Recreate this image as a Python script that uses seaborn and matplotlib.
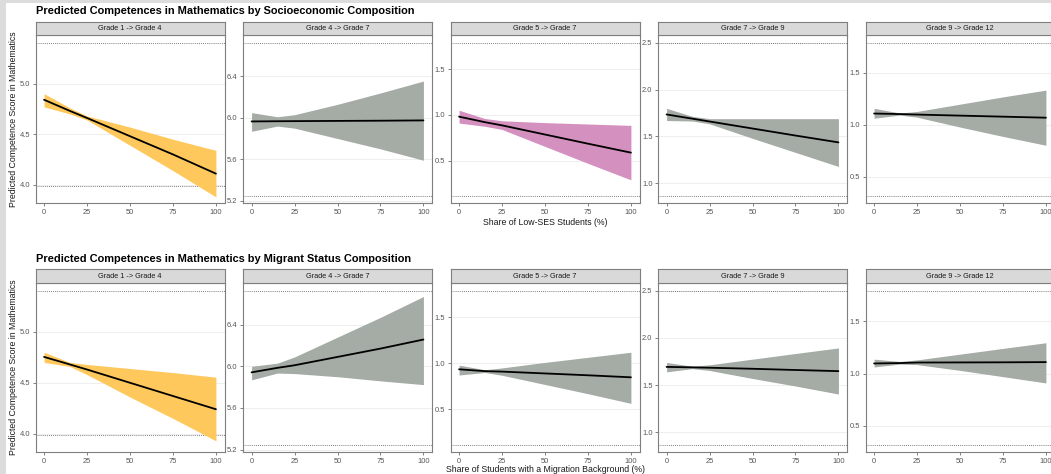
import matplotlib
matplotlib.use("Agg")
import matplotlib.pyplot as plt
from matplotlib.patches import Rectangle
import seaborn as sns
import pandas as pd

sns.set_theme(style="white")
plt.rcParams['font.family'] = ['Liberation Sans', 'DejaVu Sans']

# ---------------- data ----------------
grades = ["Grade 1 -> Grade 4", "Grade 4 -> Grade 7", "Grade 5 -> Grade 7",
          "Grade 7 -> Grade 9", "Grade 9 -> Grade 12"]
share_x = [0, 15, 25, 50, 75, 100]

ses_fit = [[4.84, 4.73, 4.66, 4.48, 4.30, 4.11],
           [5.965, 5.967, 5.968, 5.970, 5.972, 5.975],
           [0.98, 0.92, 0.885, 0.785, 0.685, 0.587],
           [1.735, 1.69, 1.66, 1.585, 1.51, 1.437],
           [1.11, 1.105, 1.10, 1.09, 1.08, 1.07]]
ses_hi = [[4.90, 4.76, 4.68, 4.57, 4.45, 4.34],
          [6.05, 6.01, 6.03, 6.13, 6.24, 6.355],
          [1.05, 0.96, 0.935, 0.915, 0.90, 0.885],
          [1.80, 1.715, 1.69, 1.69, 1.69, 1.69],
          [1.16, 1.115, 1.13, 1.20, 1.27, 1.335]]
ses_lo = [[4.77, 4.70, 4.64, 4.39, 4.14, 3.88],
          [5.87, 5.92, 5.90, 5.80, 5.70, 5.59],
          [0.91, 0.875, 0.84, 0.655, 0.47, 0.29],
          [1.67, 1.665, 1.635, 1.48, 1.33, 1.18],
          [1.065, 1.095, 1.075, 0.98, 0.89, 0.805]]

mig_fit = [[4.754, 4.68, 4.63, 4.50, 4.37, 4.24],
           [5.942, 5.985, 6.01, 6.09, 6.17, 6.257],
           [0.935, 0.915, 0.91, 0.89, 0.87, 0.848],
           [1.693, 1.688, 1.684, 1.673, 1.66, 1.648],
           [1.096, 1.10, 1.105, 1.106, 1.107, 1.109]]
mig_hi = [[4.80, 4.70, 4.68, 4.64, 4.60, 4.555],
          [6.00, 6.03, 6.09, 6.28, 6.47, 6.67],
          [0.98, 0.93, 0.95, 1.01, 1.065, 1.12],
          [1.74, 1.70, 1.715, 1.775, 1.835, 1.894],
          [1.137, 1.115, 1.13, 1.185, 1.24, 1.294]]
mig_lo = [[4.70, 4.66, 4.58, 4.36, 4.15, 3.93],
          [5.87, 5.935, 5.93, 5.90, 5.86, 5.824],
          [0.873, 0.90, 0.87, 0.77, 0.67, 0.565],
          [1.64, 1.675, 1.655, 1.57, 1.49, 1.405],
          [1.063, 1.09, 1.085, 1.03, 0.97, 0.91]]

ref_lower = [3.99, 5.245, 0.115, 0.865, 0.32]
ref_upper = [5.40, 6.725, 1.787, 2.50, 1.79]
y_limits = [(3.82, 5.48), (5.177, 6.80), (0.037, 1.872), (0.79, 2.583), (0.25, 1.865)]
y_ticks = [[4.0, 4.5, 5.0], [5.2, 5.6, 6.0, 6.4], [0.5, 1.0, 1.5],
           [1.0, 1.5, 2.0, 2.5], [0.5, 1.0, 1.5]]
x_ticks = [0, 25, 50, 75, 100]

ORANGE, GREY, PINK = "#FEC85C", "#A5ABA5", "#D490BF"
ses_colors = [ORANGE, GREY, PINK, GREY, GREY]
mig_colors = [ORANGE, GREY, GREY, GREY, GREY]

rows = [
    dict(title="Predicted Competences in Mathematics by Socioeconomic Composition",
         xlabel="Share of Low-SES Students (%)", fit=ses_fit, hi=ses_hi, lo=ses_lo,
         colors=ses_colors, top=35, bottom=203, strip_top=21.5, title_y=11,
         tick_y=212, xlab_y=222),
    dict(title="Predicted Competences in Mathematics by Migrant Status Composition",
         xlabel="Share of Students with a Migration Background (%)", fit=mig_fit,
         hi=mig_hi, lo=mig_lo, colors=mig_colors, top=283, bottom=452,
         strip_top=269, title_y=259.5, tick_y=460, xlab_y=470),
]

# ---------------- figure ----------------
W, H = 1051, 474
fig = plt.figure(figsize=(W / 100, H / 100), dpi=100)
fig.patch.set_facecolor("white")
# light grey frame at the left and top edges
fig.add_artist(Rectangle((0, 0), 6 / W, 1, transform=fig.transFigure,
                         facecolor="#DCDCDC", edgecolor="none", zorder=0))
fig.add_artist(Rectangle((0, 1 - 3 / H), 1, 3 / H, transform=fig.transFigure,
                         facecolor="#DCDCDC", edgecolor="none", zorder=0))

panel_w = 189
SPINE = "#7F7F7F"
for r in rows:
    ph = r["bottom"] - r["top"]
    for i, g in enumerate(grades):
        left = 35.5 + 207.5 * i
        ax = fig.add_axes([left / W, (H - r["bottom"]) / H, panel_w / W, ph / H])
        df = pd.DataFrame({"share": share_x, "fit": r["fit"][i],
                           "lo": r["lo"][i], "hi": r["hi"][i]})
        ax.fill_between(df["share"], df["lo"], df["hi"], color=r["colors"][i],
                        linewidth=0, zorder=2)
        sns.lineplot(data=df, x="share", y="fit", color="black", linewidth=1.3,
                     ax=ax, zorder=3)
        ax.axhline(ref_lower[i], color="#555555", linestyle=(0, (1, 1.5)),
                   linewidth=0.6, zorder=1)
        ax.axhline(ref_upper[i], color="#555555", linestyle=(0, (1, 1.5)),
                   linewidth=0.6, zorder=1)
        ax.set_xlim(-5, 105)
        ax.set_ylim(*y_limits[i])
        ax.set_xticks(x_ticks)
        ax.set_yticks(y_ticks[i])
        ax.set_yticklabels([f"{v:.1f}" for v in y_ticks[i]])
        ax.set_xlabel("")
        ax.set_ylabel("")
        ax.grid(axis="y", color="#EBEBEB", linewidth=0.6, zorder=0)
        ax.grid(axis="x", visible=False)
        ax.tick_params(axis="both", labelsize=5.4, labelcolor="#555555",
                       color="#4D4D4D", length=2, width=0.5, pad=2,
                       left=True, bottom=True)
        for s in ax.spines.values():
            s.set_color(SPINE)
            s.set_linewidth(0.8)
            s.set_visible(True)
        # strip
        sh = r["top"] - r["strip_top"]
        sax = fig.add_axes([left / W, (H - r["top"]) / H, panel_w / W, sh / H])
        sax.set_facecolor("#D9D9D9")
        sax.set_xticks([])
        sax.set_yticks([])
        for s in sax.spines.values():
            s.set_color(SPINE)
            s.set_linewidth(0.8)
        sax.text(0.5, 0.5, g, ha="center", va="center", fontsize=5.3,
                 color="#1A1A1A", transform=sax.transAxes)

    fig.text(36 / W, 1 - r["title_y"] / H, r["title"], ha="left", va="center",
             fontsize=7.95, fontweight="bold", color="black")
    fig.text(545 / W, 1 - r["xlab_y"] / H, r["xlabel"], ha="center",
             va="center", fontsize=6.3, color="#1A1A1A")
    fig.text(14 / W, 1 - (r["top"] + r["bottom"]) / 2 / H,
             "Predicted Competence Score in Mathematics", rotation=90,
             ha="center", va="center", fontsize=6.3, color="#1A1A1A")

fig.savefig("out.png", dpi=100)
